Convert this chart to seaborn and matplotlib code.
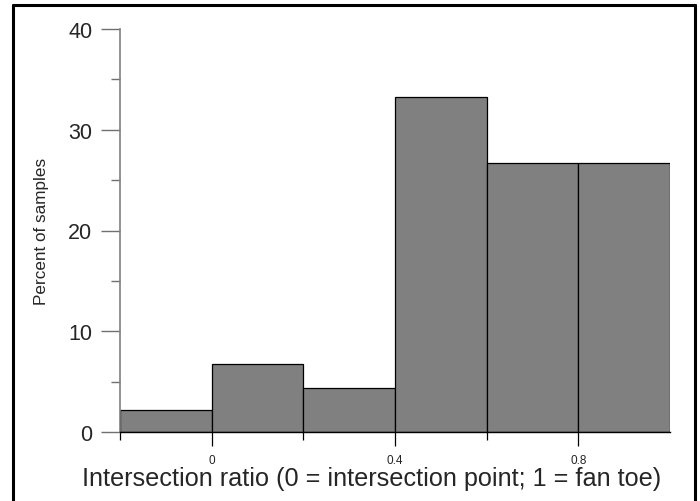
import matplotlib
matplotlib.use("Agg")
import matplotlib.pyplot as plt
from matplotlib.lines import Line2D
import seaborn as sns
import numpy as np

# Histogram of intersection ratios, expressed as percent of samples per bin
bin_edges = [-0.2, 0.0, 0.2, 0.4, 0.6, 0.8, 1.0]
percent_of_samples = [2.2, 6.7, 4.4, 33.3, 26.7, 26.7]
major_xticks = [0.0, 0.4, 0.8]
major_xlabels = ["0", "0.4", "0.8"]
minor_xticks = [-0.2, 0.2, 0.6]
major_yticks = [0, 10, 20, 30, 40]
minor_yticks = [5, 15, 25, 35]

sns.set_style("white")
plt.rcParams["font.family"] = ["Liberation Sans", "DejaVu Sans"]

fig = plt.figure(figsize=(7.0, 5.02), dpi=100)
ax = fig.add_axes([120 / 700, 69 / 502, 550 / 700, 403 / 502])

centers = [(a + b) / 2 for a, b in zip(bin_edges[:-1], bin_edges[1:])]
sns.histplot(x=centers, weights=percent_of_samples, bins=bin_edges,
             color="#808080", alpha=1.0, edgecolor="black", linewidth=0.9,
             ax=ax)

ax.set_xlim(-0.2, 1.0)
ax.set_ylim(0, 40)

ax.set_xticks(major_xticks)
ax.set_xticklabels(major_xlabels, fontsize=8.5)
ax.set_xticks(minor_xticks, minor=True)
ax.set_yticks(major_yticks)
ax.set_yticklabels([str(v) for v in major_yticks], fontsize=15.5)
ax.set_yticks(minor_yticks, minor=True)

ax.tick_params(axis="x", which="major", direction="out", length=10, width=0.9,
               color="black", pad=6, bottom=True)
ax.tick_params(axis="x", which="minor", direction="out", length=6, width=0.9,
               color="black", bottom=True)
ax.tick_params(axis="y", which="major", direction="out", length=14, width=1.0,
               color="#707070", pad=6, left=True)
ax.tick_params(axis="y", which="minor", direction="out", length=6.5, width=1.0,
               color="#707070", left=True)

for side in ("top", "right"):
    ax.spines[side].set_visible(False)
ax.spines["left"].set_color("#808080")
ax.spines["left"].set_linewidth(1.2)
ax.spines["bottom"].set_color("black")
ax.spines["bottom"].set_linewidth(1.0)

ax.set_xlabel("Intersection ratio (0 = intersection point; 1 = fan toe)",
              fontsize=18.2, labelpad=-2)
ax.xaxis.set_label_coords(0.458, -0.085)
ax.set_ylabel("Percent of samples", fontsize=12.3, labelpad=14)

# Frame around the whole figure
for xs, ys in (([12.5 / 700, 12.5 / 700], [0, 496 / 502]),
               ([12.5 / 700, 694.5 / 700], [496 / 502, 496 / 502]),
               ([694.5 / 700, 694.5 / 700], [0, 496 / 502])):
    fig.add_artist(Line2D(xs, ys, color="black", linewidth=2.2,
                          transform=fig.transFigure))

fig.savefig("out.png", dpi=100)
